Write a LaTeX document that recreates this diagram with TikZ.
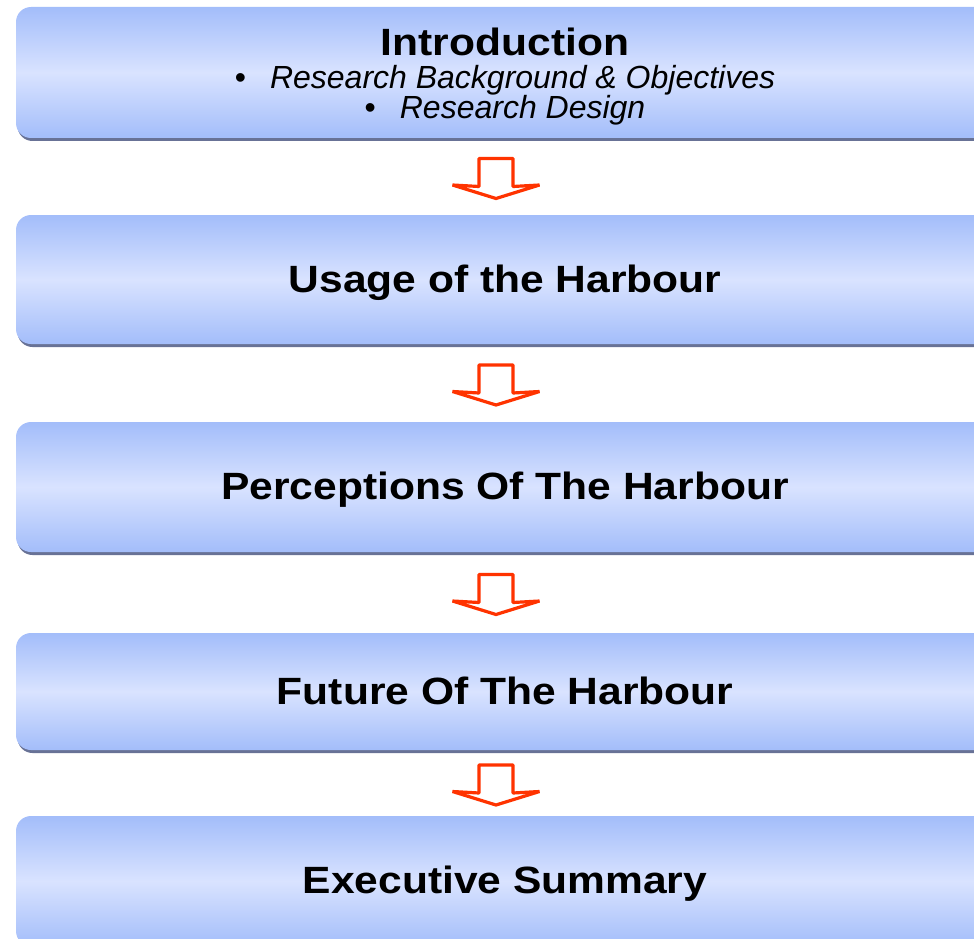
\documentclass[tikz,border=0pt]{standalone}
\usepackage{fontspec}
\setmainfont{Liberation Sans}
\newfontfamily\widefont[FakeStretch=1.12]{Liberation Sans}
\usetikzlibrary{shadows, calc}

\definecolor{edgeblue}{RGB}{163,189,250}
\definecolor{midblue}{RGB}{217,227,255}
\definecolor{shadowblue}{RGB}{104,114,150}
\definecolor{arrowred}{RGB}{255,51,0}

\tikzset{
  section/.style={rectangle, rounded corners=15pt, minimum width=978pt,
    inner sep=0pt, top color=edgeblue, bottom color=edgeblue, middle color=midblue,
    drop shadow={shadow xshift=1.5pt, shadow yshift=-3pt, fill=shadowblue, opacity=1},
    font=\widefont\fontsize{38}{42}\selectfont\bfseries},
  onetitle/.style={text height=35pt, text depth=10pt},
  downarrow/.pic={
    \draw[draw=arrowred, fill=white, line width=3.2pt, line join=bevel]
      (-17,-20.5) -- (17,-20.5) -- (17,7.5) -- (43.5,6) -- (0,19.5)
      -- (-43.5,6) -- (-17,7.5) -- cycle;
  }
}

\begin{document}
\begin{tikzpicture}[x=1pt, y=-1pt]
  \useasboundingbox (0,0) rectangle (974,939);
  \clip (0,0) rectangle (974,939);

  \node[section, minimum height=131pt, align=center,
        font=\fontsize{32}{30}\selectfont\itshape] (intro) at (505,72.5)
    {\rule{0pt}{35pt}{\widefont\fontsize{38}{42}\selectfont\bfseries\upshape Introduction}\\[3pt]
     \upshape\textbullet\hspace{0.75em}\itshape Research Background \& Objectives\\
     \upshape\textbullet\hspace{0.75em}\itshape Research Design};
  \node[section, onetitle, minimum height=129pt] (usage) at (505,279.5) {Usage of the Harbour};
  \node[section, onetitle, minimum height=130pt] (percep) at (505,487) {Perceptions Of The Harbour};
  \node[section, onetitle, minimum height=117pt] (future) at (505,691.5) {Future Of The Harbour};
  \node[section, onetitle, minimum height=130pt] (summary) at (505,881) {Executive Summary};

  % arrows between the sections
  \coordinate[xshift=-9pt, yshift=-2.5pt] (a1) at ($(intro.south)!0.5!(usage.north)$);
  \coordinate[xshift=-9pt, yshift=-2.5pt] (a2) at ($(usage.south)!0.5!(percep.north)$);
  \coordinate[xshift=-9pt, yshift=-2.5pt] (a3) at ($(percep.south)!0.5!(future.north)$);
  \coordinate[xshift=-9pt, yshift=-2.5pt] (a4) at ($(future.south)!0.5!(summary.north)$);
  \foreach \a in {a1,a2,a3,a4}
    \pic at (\a) {downarrow};
\end{tikzpicture}
\end{document}
